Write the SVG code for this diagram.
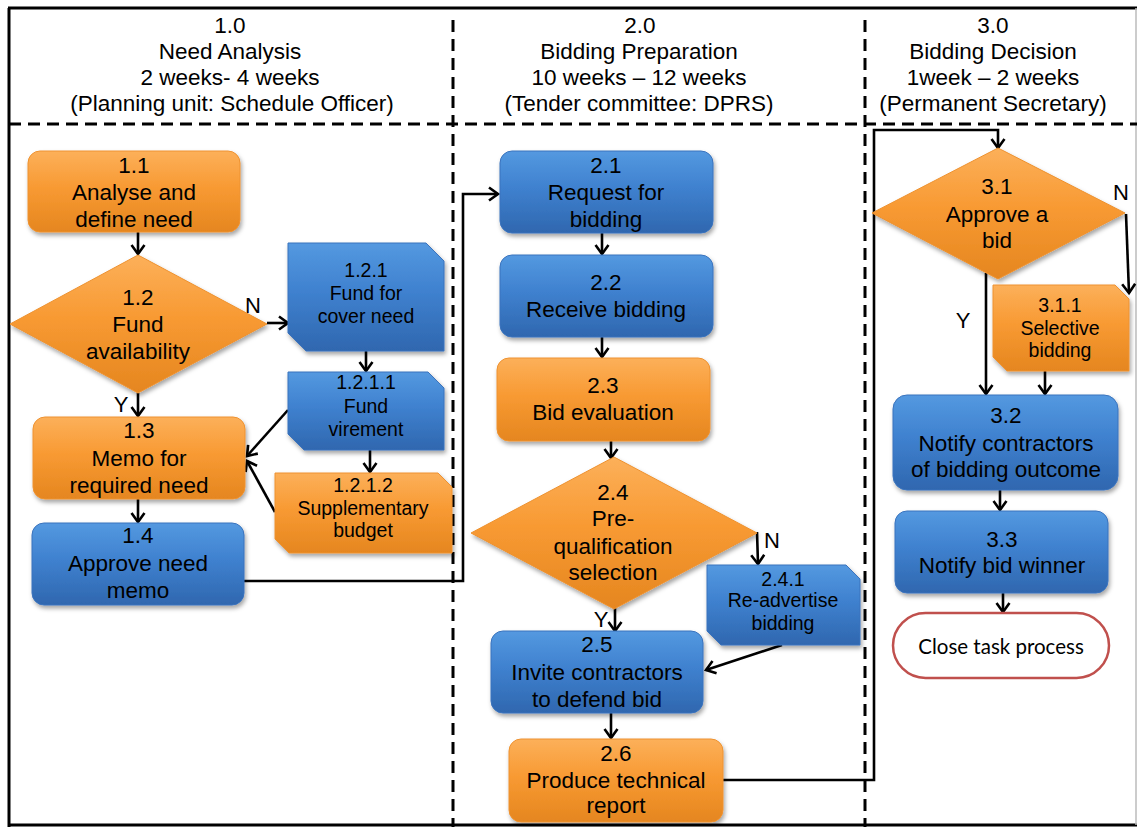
<svg xmlns="http://www.w3.org/2000/svg" width="1137" height="827" viewBox="0 0 1137 827">
  <defs>
    <linearGradient id="gOrange" x1="0" y1="0" x2="0" y2="1">
      <stop offset="0" stop-color="#FCB05A"/>
      <stop offset="0.45" stop-color="#F89A33"/>
      <stop offset="1" stop-color="#E5861F"/>
    </linearGradient>
    <linearGradient id="gBlue" x1="0" y1="0" x2="0" y2="1">
      <stop offset="0" stop-color="#5499E0"/>
      <stop offset="0.45" stop-color="#3F81CF"/>
      <stop offset="1" stop-color="#2F67AF"/>
    </linearGradient>
    <filter id="shadow" x="-10%" y="-10%" width="125%" height="130%">
      <feDropShadow dx="1.5" dy="3" stdDeviation="2" flood-color="#000" flood-opacity="0.35"/>
    </filter>
    <marker id="arrow" markerUnits="userSpaceOnUse" markerWidth="16" markerHeight="16" viewBox="-12 -8 14 16" refX="0" refY="0" orient="auto">
      <path d="M-9,-6.5 L0,0 L-9,6.5" fill="none" stroke="#000" stroke-width="2.6" stroke-linejoin="miter"/>
    </marker>
    <style>
      .hdr { font-family: "Liberation Sans", Arial, sans-serif; font-size: 22.5px; fill: #000; text-anchor: middle; }
      .t { font-family: "Liberation Sans", Arial, sans-serif; font-size: 22.5px; fill: #000; text-anchor: middle; }
      .ts { font-family: "Liberation Sans", Arial, sans-serif; font-size: 19.5px; fill: #000; text-anchor: middle; }
      .lbl { font-family: "Liberation Sans", Arial, sans-serif; font-size: 22px; fill: #000; text-anchor: middle; }
      .end { font-family: Lato, "Open Sans", sans-serif; font-size: 20.5px; fill: #000; text-anchor: middle; }
      .orange { fill: url(#gOrange); stroke: #EE9230; stroke-width: 1; filter: url(#shadow); }
      .blue { fill: url(#gBlue); stroke: #3A73BD; stroke-width: 1; filter: url(#shadow); }
      .dash { stroke: #000; stroke-width: 3; stroke-dasharray: 12 7; fill: none; }
      .frame { stroke: #000; stroke-width: 3; fill: none; }
      .conn { stroke: #000; stroke-width: 2.6; fill: none; marker-end: url(#arrow); }
    </style>
  </defs>

  <rect x="0" y="0" width="1137" height="827" fill="#fff"/>

  <!-- frame and swimlane separators -->
  <g id="frame">
    <line class="frame" x1="8" y1="8" x2="1137" y2="8"/>
    <line class="frame" x1="9" y1="8" x2="9" y2="827"/>
    <line class="frame" x1="8" y1="825" x2="1137" y2="825"/>
    <line x1="1136" y1="8" x2="1136" y2="825" stroke="#BBBBBB" stroke-width="1.5"/>
    <line class="dash" x1="9" y1="124" x2="1137" y2="124"/>
    <line class="dash" x1="453" y1="20" x2="453" y2="827"/>
    <line class="dash" x1="865" y1="20" x2="865" y2="827"/>
  </g>

  <!-- lane headers -->
  <g id="lane1-header">
    <text class="hdr" x="230" y="33">1.0</text>
    <text class="hdr" x="230" y="59">Need Analysis</text>
    <text class="hdr" x="230" y="85">2 weeks- 4 weeks</text>
    <text class="hdr" x="232" y="111">(Planning unit: Schedule Officer)</text>
  </g>
  <g id="lane2-header">
    <text class="hdr" x="640" y="33">2.0</text>
    <text class="hdr" x="639" y="59">Bidding Preparation</text>
    <text class="hdr" x="639" y="85">10 weeks – 12 weeks</text>
    <text class="hdr" x="639" y="111">(Tender committee: DPRS)</text>
  </g>
  <g id="lane3-header">
    <text class="hdr" x="993" y="33">3.0</text>
    <text class="hdr" x="993" y="59">Bidding Decision</text>
    <text class="hdr" x="993" y="85">1week – 2 weeks</text>
    <text class="hdr" x="993" y="111">(Permanent Secretary)</text>
  </g>

  <!-- connectors -->
  <g id="connectors">
    <line class="conn" x1="138" y1="232" x2="138" y2="254"/>
    <line class="conn" x1="267" y1="323" x2="288" y2="323"/>
    <line class="conn" x1="138" y1="393" x2="138" y2="416"/>
    <line class="conn" x1="366" y1="351" x2="366" y2="371"/>
    <line class="conn" x1="370" y1="450" x2="370" y2="472"/>
    <line class="conn" x1="288" y1="410" x2="247" y2="456"/>
    <line class="conn" x1="275" y1="512" x2="247" y2="461"/>
    <line class="conn" x1="138" y1="499" x2="138" y2="522"/>
    <polyline class="conn" points="244,581 463,581 463,194 498,194"/>
    <line class="conn" x1="602" y1="233" x2="602" y2="254"/>
    <line class="conn" x1="602" y1="337" x2="602" y2="357"/>
    <line class="conn" x1="611" y1="441" x2="611" y2="458"/>
    <line class="conn" x1="757" y1="532" x2="758" y2="564"/>
    <line class="conn" x1="615" y1="608" x2="615" y2="631"/>
    <line class="conn" x1="782" y1="645" x2="706" y2="670"/>
    <line class="conn" x1="611" y1="713" x2="611" y2="738"/>
    <polyline class="conn" points="723,780 874,780 874,130 998,130 998,148"/>
    <line class="conn" x1="1126" y1="214" x2="1129" y2="293"/>
    <line class="conn" x1="986" y1="273" x2="986" y2="394"/>
    <line class="conn" x1="1045" y1="371" x2="1045" y2="394"/>
    <line class="conn" x1="1000" y1="490" x2="1000" y2="510"/>
    <line class="conn" x1="1003" y1="593" x2="1003" y2="612"/>
    <text class="lbl" x="253" y="313">N</text>
    <text class="lbl" x="121" y="412">Y</text>
    <text class="lbl" x="772" y="548">N</text>
    <text class="lbl" x="601" y="627">Y</text>
    <text class="lbl" x="1121" y="200">N</text>
    <text class="lbl" x="963" y="328">Y</text>
  </g>

  <!-- lane 1 nodes -->
  <g id="n1-1">
    <rect class="orange" x="28" y="151" width="212" height="81" rx="12"/>
    <text class="t" x="134" y="173">1.1</text>
    <text class="t" x="134" y="200">Analyse and</text>
    <text class="t" x="134" y="227">define need</text>
  </g>
  <g id="n1-2">
    <polygon class="orange" points="138,255 267,324 138,393 10,324"/>
    <text class="t" x="138" y="305">1.2</text>
    <text class="t" x="138" y="332">Fund</text>
    <text class="t" x="138" y="359">availability</text>
  </g>
  <g id="n1-2-1">
    <polygon class="blue" points="288,243 426,243 444,261 444,351 306,351 288,333"/>
    <text class="ts" x="366" y="277">1.2.1</text>
    <text class="ts" x="366" y="300">Fund for</text>
    <text class="ts" x="366" y="323">cover need</text>
  </g>
  <g id="n1-2-1-1">
    <polygon class="blue" points="288,372 428,372 444,388 444,450 304,450 288,434"/>
    <text class="ts" x="366" y="389">1.2.1.1</text>
    <text class="ts" x="366" y="413">Fund</text>
    <text class="ts" x="366" y="436">virement</text>
  </g>
  <g id="n1-2-1-2">
    <polygon class="orange" points="275,473 438,473 452,487 452,553 289,553 275,539"/>
    <text class="ts" x="363" y="492">1.2.1.2</text>
    <text class="ts" x="363" y="515">Supplementary</text>
    <text class="ts" x="363" y="537">budget</text>
  </g>
  <g id="n1-3">
    <rect class="orange" x="33" y="417" width="212" height="82" rx="12"/>
    <text class="t" x="139" y="438">1.3</text>
    <text class="t" x="139" y="466">Memo for</text>
    <text class="t" x="139" y="493">required need</text>
  </g>
  <g id="n1-4">
    <rect class="blue" x="32" y="523" width="212" height="82" rx="12"/>
    <text class="t" x="138" y="543">1.4</text>
    <text class="t" x="138" y="571">Approve need</text>
    <text class="t" x="138" y="598">memo</text>
  </g>

  <!-- lane 2 nodes -->
  <g id="n2-1">
    <rect class="blue" x="500" y="151" width="213" height="82" rx="12"/>
    <text class="t" x="606" y="173">2.1</text>
    <text class="t" x="606" y="200">Request for</text>
    <text class="t" x="606" y="227">bidding</text>
  </g>
  <g id="n2-2">
    <rect class="blue" x="500" y="255" width="213" height="82" rx="12"/>
    <text class="t" x="606" y="290">2.2</text>
    <text class="t" x="606" y="317">Receive bidding</text>
  </g>
  <g id="n2-3">
    <rect class="orange" x="497" y="358" width="213" height="83" rx="12"/>
    <text class="t" x="603" y="393">2.3</text>
    <text class="t" x="603" y="420">Bid evaluation</text>
  </g>
  <g id="n2-4">
    <polygon class="orange" points="614,457 757,533 614,609 471,533"/>
    <text class="t" x="613" y="500">2.4</text>
    <text class="t" x="613" y="526">Pre-</text>
    <text class="t" x="613" y="554">qualification</text>
    <text class="t" x="613" y="580">selection</text>
  </g>
  <g id="n2-4-1">
    <polygon class="blue" points="707,565 846,565 860,579 860,645 721,645 707,631"/>
    <text class="ts" x="783" y="586">2.4.1</text>
    <text class="ts" x="783" y="607">Re-advertise</text>
    <text class="ts" x="783" y="630">bidding</text>
  </g>
  <g id="n2-5">
    <rect class="blue" x="491" y="631" width="212" height="82" rx="12"/>
    <text class="t" x="597" y="652">2.5</text>
    <text class="t" x="597" y="680">Invite contractors</text>
    <text class="t" x="597" y="707">to defend bid</text>
  </g>
  <g id="n2-6">
    <rect class="orange" x="509" y="739" width="214" height="83" rx="12"/>
    <text class="t" x="616" y="761">2.6</text>
    <text class="t" x="616" y="788">Produce technical</text>
    <text class="t" x="616" y="813">report</text>
  </g>

  <!-- lane 3 nodes -->
  <g id="n3-1">
    <polygon class="orange" points="998,148 1125,213 998,279 872,213"/>
    <text class="t" x="997" y="194">3.1</text>
    <text class="t" x="997" y="222">Approve a</text>
    <text class="t" x="997" y="248">bid</text>
  </g>
  <g id="n3-1-1">
    <polygon class="orange" points="993,285 1115,285 1129,299 1129,371 1007,371 993,357"/>
    <text class="ts" x="1060" y="312">3.1.1</text>
    <text class="ts" x="1060" y="335">Selective</text>
    <text class="ts" x="1060" y="357">bidding</text>
  </g>
  <g id="n3-2">
    <rect class="blue" x="893" y="395" width="225" height="95" rx="14"/>
    <text class="t" x="1006" y="423">3.2</text>
    <text class="t" x="1006" y="451">Notify contractors</text>
    <text class="t" x="1006" y="477">of bidding outcome</text>
  </g>
  <g id="n3-3">
    <rect class="blue" x="895" y="511" width="213" height="82" rx="12"/>
    <text class="t" x="1002" y="547">3.3</text>
    <text class="t" x="1002" y="573">Notify bid winner</text>
  </g>
  <g id="n-close">
    <rect x="893" y="613" width="216" height="65" rx="32.5" fill="#fff" stroke="#C0504D" stroke-width="2.5"/>
    <text class="end" x="1001" y="654">Close task process</text>
  </g>
</svg>
